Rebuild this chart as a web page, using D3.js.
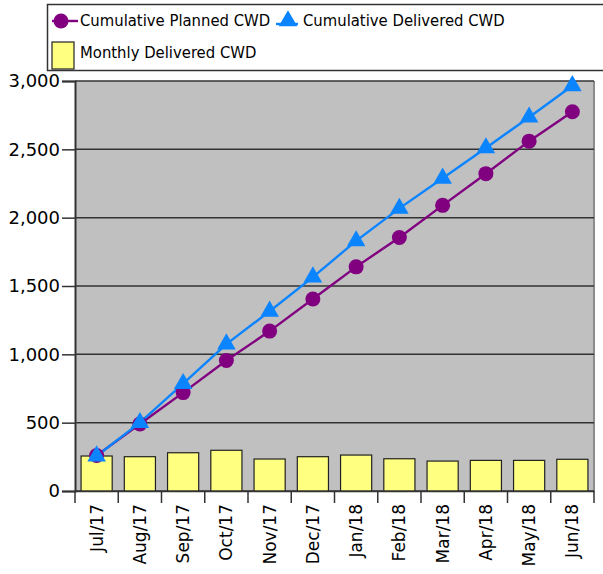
<!DOCTYPE html>
<html>
<head>
<meta charset="utf-8">
<script src="https://cdn.jsdelivr.net/npm/d3@7"></script>
<style>
body { margin: 0; background: #fff; }
svg text { font-family: "DejaVu Sans", Verdana, sans-serif; fill: #000; }
svg text.leg { font-family: "DejaVu Sans Condensed", "DejaVu Sans", sans-serif; font-stretch: condensed; }
</style>
</head>
<body>
<svg width="603" height="574"></svg>
<script>
var months = ["Jul/17", "Aug/17", "Sep/17", "Oct/17", "Nov/17", "Dec/17",
              "Jan/18", "Feb/18", "Mar/18", "Apr/18", "May/18", "Jun/18"];
var monthlyDelivered = [256, 251, 280, 298, 234, 251, 263, 236, 219, 224, 224, 232];
var cumPlanned = [260, 490, 720, 955, 1170, 1405, 1640, 1855, 2090, 2322, 2560, 2775];
var cumDelivered = [256, 500, 785, 1075, 1315, 1565, 1830, 2068, 2288, 2510, 2735, 2965];
var yTicks = [0, 500, 1000, 1500, 2000, 2500, 3000];

var svg = d3.select("svg"),
    margin = {top: 81, right: 9, bottom: 83, left: 75},
    width = +svg.attr("width") - margin.left - margin.right,
    height = +svg.attr("height") - margin.top - margin.bottom,
    g = svg.append("g").attr("transform", "translate(" + margin.left + "," + margin.top + ")");

var x = d3.scaleBand()
    .domain(months)
    .range([0, width])
    .paddingInner(0.28)
    .paddingOuter(0.14);

var xPoint = function(d) { return x(d) + x.bandwidth() / 2; };

var y = d3.scaleLinear()
    .domain([0, 3000])
    .range([height, 0]);

// plot background
g.append("rect")
    .attr("width", width)
    .attr("height", height)
    .attr("fill", "#c0c0c0");

g.append("line")
    .attr("x1", width).attr("x2", width)
    .attr("y1", 0).attr("y2", height)
    .attr("stroke", "#8c8c8c").attr("stroke-width", 2);

// gridlines
g.selectAll(".grid")
    .data(yTicks)
    .enter().append("line")
    .attr("class", "grid")
    .attr("x1", 0).attr("x2", width)
    .attr("y1", function(d) { return y(d); })
    .attr("y2", function(d) { return y(d); })
    .attr("stroke", "#333")
    .attr("stroke-width", 1.5);

// bars
g.selectAll(".bar")
    .data(monthlyDelivered)
    .enter().append("rect")
    .attr("class", "bar")
    .attr("x", function(d, i) { return x(months[i]); })
    .attr("y", function(d) { return y(d); })
    .attr("width", x.bandwidth())
    .attr("height", function(d) { return height - y(d); })
    .attr("fill", "#ffff80")
    .attr("stroke", "#222")
    .attr("stroke-width", 1.2);

// y axis
var yAxis = g.append("g")
    .call(d3.axisLeft(y).tickValues(yTicks).tickSize(13).tickPadding(2).tickFormat(d3.format(",")));
yAxis.select(".domain").attr("stroke", "#333").attr("stroke-width", 2);
yAxis.selectAll(".tick line").attr("stroke", "#333").attr("stroke-width", 1.5);
yAxis.selectAll("text").style("font-size", "18px");

// x axis
var xAxis = g.append("g")
    .attr("transform", "translate(0," + height + ")")
    .call(d3.axisBottom(x).tickSize(0).tickPadding(0));
xAxis.select(".domain").attr("stroke", "#333").attr("stroke-width", 1.5);
xAxis.selectAll(".tick text")
    .style("font-size", "17px")
    .attr("text-anchor", "end")
    .attr("dy", "0.35em")
    .attr("transform", "translate(0,13) rotate(-90)")
    .attr("x", 0).attr("y", 0);

// separators between categories
var seps = d3.range(months.length + 1);
xAxis.selectAll(".sep")
    .data(seps)
    .enter().append("line")
    .attr("class", "sep")
    .attr("x1", function(i) { return i * x.step(); })
    .attr("x2", function(i) { return i * x.step(); })
    .attr("y1", 0).attr("y2", 12)
    .attr("stroke", "#333").attr("stroke-width", 1.5);

// lines
var planLine = d3.line()
    .x(function(d, i) { return xPoint(months[i]); })
    .y(function(d) { return y(d); });

g.append("path")
    .datum(cumPlanned)
    .attr("d", planLine)
    .attr("fill", "none")
    .attr("stroke", "#800080")
    .attr("stroke-width", 2.4);

g.append("path")
    .datum(cumDelivered)
    .attr("d", planLine)
    .attr("fill", "none")
    .attr("stroke", "#0a84ff")
    .attr("stroke-width", 2.4);

g.selectAll(".plan")
    .data(cumPlanned)
    .enter().append("circle")
    .attr("class", "plan")
    .attr("cx", function(d, i) { return xPoint(months[i]); })
    .attr("cy", function(d) { return y(d); })
    .attr("r", 7.5)
    .attr("fill", "#800080");

var tri = d3.symbol().type(d3.symbolTriangle).size(150);
g.selectAll(".deliv")
    .data(cumDelivered)
    .enter().append("path")
    .attr("class", "deliv")
    .attr("d", tri)
    .attr("transform", function(d, i) { return "translate(" + xPoint(months[i]) + "," + y(d) + ")"; })
    .attr("fill", "#0a84ff");

// legend
var lg = svg.append("g");
lg.append("rect")
    .attr("x", 47.5).attr("y", 4.5)
    .attr("width", 570).attr("height", 66)
    .attr("fill", "#fff").attr("stroke", "#333").attr("stroke-width", 1.5);

lg.append("line").attr("x1", 52).attr("x2", 78).attr("y1", 21).attr("y2", 21)
    .attr("stroke", "#800080").attr("stroke-width", 2.4);
lg.append("circle").attr("cx", 61).attr("cy", 21).attr("r", 7.5).attr("fill", "#800080");
lg.append("text").attr("class", "leg").attr("x", 80).attr("y", 26).style("font-size", "16.5px").text("Cumulative Planned CWD");

lg.append("line").attr("x1", 276).attr("x2", 298).attr("y1", 24).attr("y2", 24)
    .attr("stroke", "#0a84ff").attr("stroke-width", 2.4);
lg.append("path").attr("d", tri).attr("transform", "translate(288,21)").attr("fill", "#0a84ff");
lg.append("text").attr("class", "leg").attr("x", 303).attr("y", 26).style("font-size", "16.5px").text("Cumulative Delivered CWD");

lg.append("rect").attr("x", 52).attr("y", 42).attr("width", 22).attr("height", 27)
    .attr("fill", "#ffff80").attr("stroke", "#222").attr("stroke-width", 1.2);
lg.append("text").attr("class", "leg").attr("x", 80).attr("y", 58).style("font-size", "16.5px").text("Monthly Delivered CWD");
</script>
</body>
</html>
